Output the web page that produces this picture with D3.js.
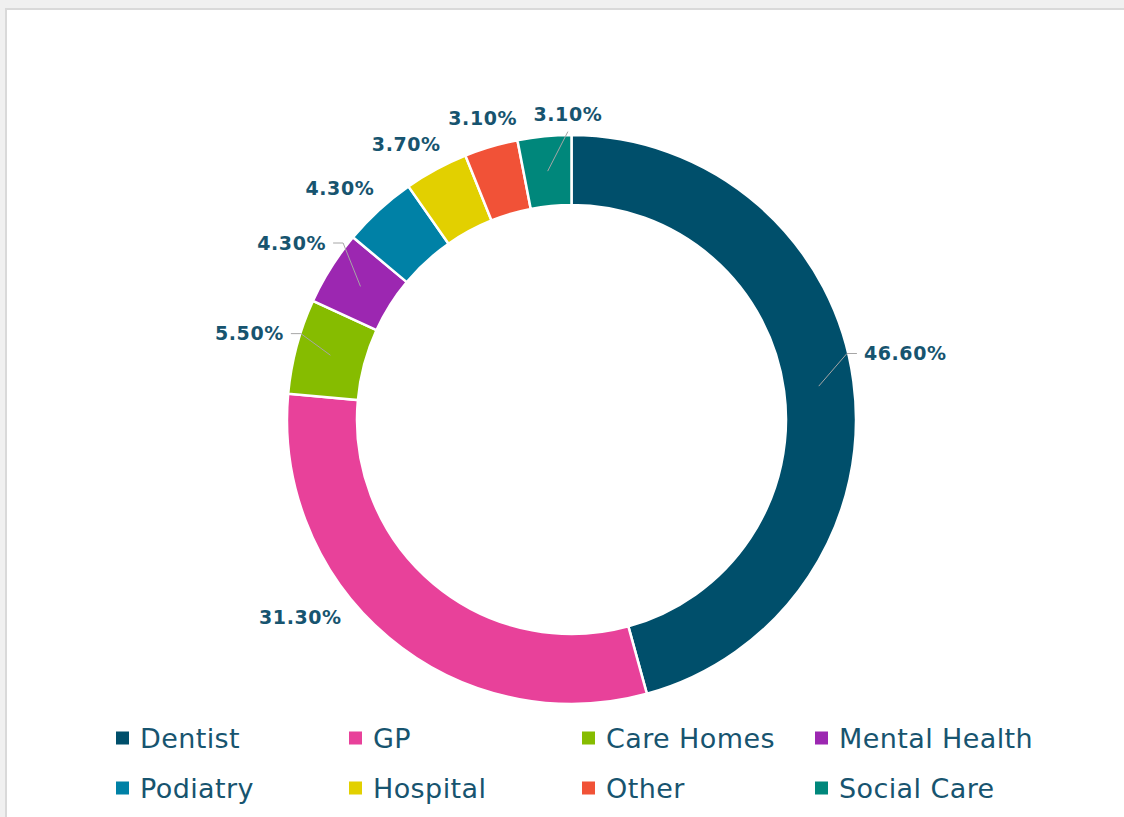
<!DOCTYPE html>
<html lang="en">
<head>
    <meta charset="UTF-8">
    <title>D3.js Donut Chart</title>
    <script src="https://cdnjs.cloudflare.com/ajax/libs/d3/7.8.5/d3.min.js"></script>
    <style>
        html, body { margin: 0; padding: 0; background: #f0f0f0; }
        svg { display: block; font-family: "DejaVu Sans", Verdana, sans-serif; }
    </style>
</head>
<body>
    <div id="chart"></div>

    <script>
        // Data
        const categories = ["Dentist", "GP", "Care Homes", "Mental Health", "Podiatry", "Hospital", "Other", "Social Care"];
        const values = [46.6, 31.3, 5.5, 4.3, 4.3, 3.7, 3.1, 3.1];
        const colors = ["#004f6b", "#e8419a", "#86bc00", "#9c27b1", "#0081a6", "#e2d000", "#f15237", "#00877b"];

        // Label layout tweaks (best-fit placement, degrees) and which labels get a leader line
        const labelNudge = { "Dentist": -3.5, "GP": 14, "Podiatry": -2.5, "Hospital": -2.5, "Social Care": 4.8 };
        const withLeader = new Set(["Dentist", "Care Homes", "Mental Health", "Social Care"]);

        const width = 1124;
        const height = 817;
        const cx = 571.5, cy = 419.5;
        const outerR = 284.5, innerR = 214.5;
        const labelGap = 14;
        const textColor = "#17546f";

        const data = categories.map((c, i) => ({ category: c, value: values[i] }));

        const svg = d3.select("#chart")
            .append("svg")
            .attr("width", width)
            .attr("height", height);

        // Background panel
        svg.append("rect").attr("width", width).attr("height", height).attr("fill", "#f0f0f0");
        svg.append("rect")
            .attr("x", 6).attr("y", 9)
            .attr("width", width + 10).attr("height", height + 10)
            .attr("fill", "white")
            .attr("stroke", "#d9d9d9")
            .attr("stroke-width", 2);

        const g = svg.append("g").attr("transform", `translate(${cx},${cy})`);

        const color = d3.scaleOrdinal().domain(categories).range(colors);

        const pie = d3.pie().value(d => d.value).sort(null);
        const arc = d3.arc().innerRadius(innerR).outerRadius(outerR);
        const midArc = d3.arc().innerRadius((innerR + outerR) / 2).outerRadius((innerR + outerR) / 2);

        const arcs = pie(data);

        g.selectAll("path.slice")
            .data(arcs)
            .enter()
            .append("path")
            .attr("class", "slice")
            .attr("d", arc)
            .attr("fill", d => color(d.data.category))
            .attr("stroke", "white")
            .attr("stroke-width", 2.5);

        // Labels
        const midAngle = d => (d.startAngle + d.endAngle) / 2;
        const labelAngle = d => midAngle(d) + (labelNudge[d.data.category] || 0) * Math.PI / 180;

        const labels = g.selectAll("text.label")
            .data(arcs)
            .enter()
            .append("text")
            .attr("class", "label")
            .attr("dy", "0.36em")
            .attr("text-anchor", "middle")
            .style("font-size", "19px")
            .style("font-weight", "bold")
            .style("letter-spacing", "0.6px")
            .attr("fill", textColor)
            .text(d => d.data.value.toFixed(2) + "%");

        // place each label so its box sits just outside the ring
        labels.each(function(d) {
            const w = this.getComputedTextLength();
            const h = 12;
            const a = labelAngle(d);
            const s = Math.sin(a), c = Math.cos(a);
            const r = outerR + labelGap + Math.abs(s) * w / 2 + Math.abs(c) * h / 2;
            d.lx = r * s;
            d.ly = -r * c;
            d.w = w;
            d3.select(this).attr("x", d.lx).attr("y", d.ly);
        });

        // Leader lines
        labels.each(function(d) {
            if (!withLeader.has(d.data.category)) return;
            const start = midArc.centroid(d);
            const s = Math.sin(labelAngle(d));
            let pts;
            if (Math.abs(s) > 0.4) {
                const dir = s > 0 ? 1 : -1;
                const ex = d.lx - dir * (d.w / 2 + 7);
                pts = [start, [ex - dir * 10, d.ly], [ex, d.ly]];
            } else {
                pts = [start, [d.lx, d.ly + 17]];
            }
            g.append("path")
                .attr("d", d3.line()(pts))
                .attr("fill", "none")
                .attr("stroke", "#a6a6a6")
                .attr("stroke-width", 1);
        });

        // Legend
        const legend = svg.append("g").attr("transform", "translate(116, 738)");
        const legendItems = legend.selectAll(".legend-item")
            .data(categories)
            .enter()
            .append("g")
            .attr("class", "legend-item")
            .attr("transform", (d, i) => `translate(${(i % 4) * 233}, ${Math.floor(i / 4) * 50})`);

        legendItems.append("rect")
            .attr("y", -6.5)
            .attr("width", 13)
            .attr("height", 13)
            .attr("fill", d => color(d));

        legendItems.append("text")
            .attr("x", 24)
            .attr("y", 0)
            .attr("dy", "0.36em")
            .style("font-size", "27px")
            .style("letter-spacing", "0.4px")
            .attr("fill", textColor)
            .text(d => d);
    </script>
</body>
</html>
